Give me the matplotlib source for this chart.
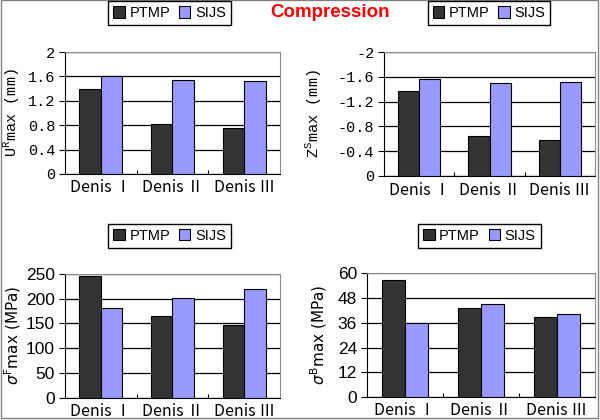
# -*- coding: utf-8 -*-
import numpy as np
import matplotlib
matplotlib.use("Agg")
import matplotlib.pyplot as plt
from matplotlib.patches import Rectangle

plt.rcParams['axes.unicode_minus'] = False

# data
cases = ['Denis Ⅰ', 'Denis Ⅱ', 'Denis Ⅲ']
series = ['PTMP', 'SIJS']

ur_ptmp = [1.39, 0.82, 0.75]
ur_sijs = [1.60, 1.54, 1.52]

zs_ptmp = [-1.37, -0.65, -0.58]
zs_sijs = [-1.56, -1.50, -1.52]

sf_ptmp = [245, 165, 147]
sf_sijs = [181, 201, 220]

sb_ptmp = [56.7, 43.0, 38.9]
sb_sijs = [35.7, 45.0, 40.4]

ur_ticks = [0, 0.4, 0.8, 1.2, 1.6, 2]
ur_labels = ['0', '0.4', '0.8', '1.2', '1.6', '2']
zs_ticks = [0, -0.4, -0.8, -1.2, -1.6, -2]
zs_labels = ['0', '-0.4', '-0.8', '-1.2', '-1.6', '-2']
sf_ticks = [0, 50, 100, 150, 200, 250]
sb_ticks = [0, 12, 24, 36, 48, 60]

c_ptmp = '#333333'
c_sijs = '#9999ff'


def panel(fig, rect, v1, v2, ticks, labels, ylim, ylabel, lab_x,
          tickfont, labfont, legend_xy):
    ax = fig.add_axes(rect)
    x = np.arange(len(cases))
    w = 0.3
    b1 = ax.bar(x - w / 2, v1, w, color=c_ptmp, edgecolor='black', lw=0.8,
                zorder=3, label=series[0])
    b2 = ax.bar(x + w / 2, v2, w, color=c_sijs, edgecolor='black', lw=0.8,
                zorder=3, label=series[1])
    ax.set_xlim(-0.5, len(cases) - 0.5)
    ax.set_ylim(*ylim)
    ax.set_yticks(ticks)
    ax.set_yticklabels(labels, **tickfont)
    ax.set_xticks(x)
    ax.set_xticklabels(cases, fontsize=11.5, family=['Noto Sans CJK JP'])
    ax.tick_params(axis='x', which='major', length=0, pad=4)
    ax.set_xticks([0.5, 1.5], minor=True)
    ax.tick_params(axis='x', which='minor', direction='in', length=3,
                   width=0.8)
    ax.tick_params(axis='y', length=4, width=0.8, pad=3)
    ax.yaxis.grid(True, color='black', lw=0.9, zorder=1)
    ax.set_axisbelow(True)
    for s in ['top', 'right']:
        ax.spines[s].set_color('#8c8c8c')
    for s in ['left', 'bottom']:
        ax.spines[s].set_color('black')
    ax.set_ylabel(ylabel, va='center', **labfont)
    ax.yaxis.set_label_coords(lab_x, 0.5)
    fig.legend(handles=[b1, b2], loc='center', bbox_to_anchor=legend_xy,
               ncol=2, frameon=True, fancybox=False, edgecolor='black',
               framealpha=1, handlelength=0.8, handleheight=0.8,
               handletextpad=0.3, columnspacing=0.6, borderpad=0.35,
               prop={'family': 'Liberation Sans', 'size': 10.5})
    return ax


fig = plt.figure(figsize=(6, 4.2), dpi=100)

mono = {'family': 'Liberation Mono', 'fontsize': 11}
sans = {'family': 'Liberation Sans', 'fontsize': 12.5}

panel(fig, [0.108, 0.586, 0.359, 0.290], ur_ptmp, ur_sijs, ur_ticks,
      ur_labels, (0, 2), r'U$^{\mathregular{R}}$max (mm)', -0.245,
      mono, {'family': 'Liberation Mono', 'fontsize': 11},
      (0.2825, 0.969))

panel(fig, [0.640, 0.581, 0.352, 0.295], zs_ptmp, zs_sijs, zs_ticks,
      zs_labels, (0, -2), r'Z$^{\mathregular{S}}$max (mm)', -0.33,
      mono, {'family': 'Liberation Mono', 'fontsize': 11},
      (0.815, 0.969))

panel(fig, [0.108, 0.053, 0.359, 0.295], sf_ptmp, sf_sijs, sf_ticks,
      [str(t) for t in sf_ticks], (0, 250),
      r'$\sigma^{\mathregular{F}}$max (MPa)', -0.24,
      sans, {'family': 'DejaVu Sans', 'fontsize': 11},
      (0.2825, 0.439))

panel(fig, [0.611, 0.055, 0.381, 0.294], sb_ptmp, sb_sijs, sb_ticks,
      [str(t) for t in sb_ticks], (0, 60),
      r'$\sigma^{\mathregular{B}}$max (MPa)', -0.21,
      sans, {'family': 'DejaVu Sans', 'fontsize': 11},
      (0.799, 0.439))

fig.text(0.55, 0.970, 'Compression', color='red', ha='center', va='center',
         fontsize=13.5, fontweight='bold', family='Liberation Sans')

# outer frame of the picture
fig.patches.append(Rectangle((0.001, 0.004), 0.995, 0.995,
                             transform=fig.transFigure, fill=False,
                             edgecolor='#808080', lw=1))

fig.savefig('out.png', dpi=100)
